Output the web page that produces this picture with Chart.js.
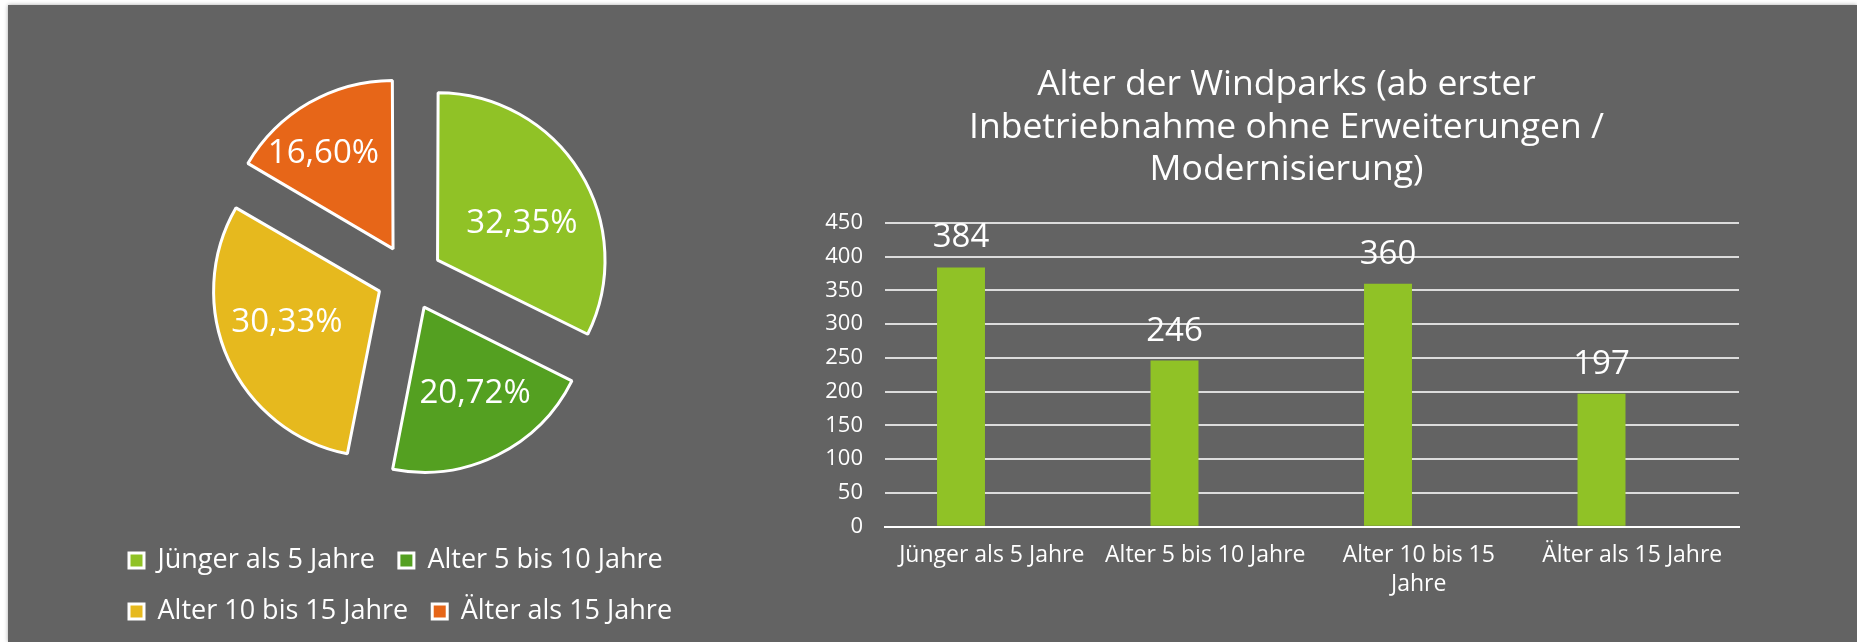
<!DOCTYPE html>
<html>
<head>
<meta charset="utf-8">
<script src="https://cdn.jsdelivr.net/npm/chart.js@4"></script>
<style>
  html, body { margin: 0; padding: 0; background: #fff; }
  body { width: 1857px; height: 642px; position: relative; overflow: hidden; }
  #panel { position: absolute; left: 8px; top: 5px; right: 0; bottom: 0; background: #636363; box-shadow: 0 0 4px rgba(0,0,0,0.35); }
  .box { position: absolute; }
  #pieBox { left: 105px; top: 32px; width: 609px; height: 603px; }
  #barBox { left: 824px; top: 40px; width: 925px; height: 602px; }
</style>
</head>
<body>
<div id="panel"></div>
<div class="box" id="pieBox"><canvas id="pie"></canvas></div>
<div class="box" id="barBox"><canvas id="bar"></canvas></div>
<script>
// age groups of the wind parks
const categories = ['Jünger als 5 Jahre', 'Alter 5 bis 10 Jahre', 'Alter 10 bis 15 Jahre', 'Älter als 15 Jahre'];
const xTickLabels = ['Jünger als 5 Jahre', 'Alter 5 bis 10 Jahre', ['Alter 10 bis 15', 'Jahre'], 'Älter als 15 Jahre'];
const parkCounts = [384, 246, 360, 197];
const pieShares = [32.35, 20.72, 30.33, 16.60];
const pieColors = ['#90C226', '#54A021', '#E6B91E', '#E76618'];
const yTicks = [0, 50, 100, 150, 200, 250, 300, 350, 400, 450];
const titleLines = ['Alter der Windparks (ab erster', 'Inbetriebnahme ohne Erweiterungen /', 'Modernisierung)'];

Chart.defaults.font.family = "'Open Sans', sans-serif";
Chart.defaults.color = '#fff';

// percent labels inside the slices (distance from slice tip, small turn off the bisector)
const pieLabels = {
  id: 'pieLabels',
  afterDatasetsDraw(chart) {
    const ctx = chart.ctx;
    const meta = chart.getDatasetMeta(0);
    const dist = [93, 98, 97, 120];
    const turn = [6.9, -5.1, 6.8, -5.6];
    ctx.save();
    ctx.fillStyle = '#fff';
    ctx.font = "33px 'Open Sans', sans-serif";
    ctx.textAlign = 'center';
    ctx.textBaseline = 'alphabetic';
    meta.data.forEach((arc, i) => {
      const mid = (arc.startAngle + arc.endAngle) / 2;
      const off = (arc.options.offset || 0) / 4;
      const tx = arc.x + Math.cos(mid) * off;
      const ty = arc.y + Math.sin(mid) * off;
      const a = mid + turn[i] * Math.PI / 180;
      const txt = pieShares[i].toFixed(2).replace('.', ',') + '%';
      ctx.fillText(txt, tx + Math.cos(a) * dist[i], ty + Math.sin(a) * dist[i] + 12);
    });
    ctx.restore();
  }
};

// value labels above the bars
const barLabels = {
  id: 'barLabels',
  afterDatasetsDraw(chart) {
    const ctx = chart.ctx;
    const meta = chart.getDatasetMeta(0);
    ctx.save();
    ctx.fillStyle = '#fff';
    ctx.font = "33px 'Open Sans', sans-serif";
    ctx.textAlign = 'center';
    ctx.textBaseline = 'alphabetic';
    meta.data.forEach((bar, i) => {
      ctx.fillText(String(parkCounts[i]), bar.x, bar.y - 20);
    });
    ctx.restore();
  }
};

new Chart(document.getElementById('pie'), {
  type: 'pie',
  data: {
    labels: categories,
    datasets: [{
      data: pieShares,
      backgroundColor: pieColors,
      borderColor: '#fff',
      borderWidth: 3,
      offset: 132,
      hoverOffset: 0
    }]
  },
  options: {
    responsive: true,
    maintainAspectRatio: false,
    animation: false,
    radius: 164,
    layout: { padding: 0 },
    plugins: {
      legend: {
        position: 'bottom',
        align: 'start',
        labels: { color: '#fff', font: { size: 27 }, boxWidth: 15, boxHeight: 15, padding: 24 }
      },
      tooltip: { enabled: false }
    }
  },
  plugins: [pieLabels]
});

new Chart(document.getElementById('bar'), {
  type: 'bar',
  data: {
    labels: xTickLabels,
    datasets: [
      { data: parkCounts, backgroundColor: '#90C226', borderWidth: 0 },
      { data: parkCounts.map(() => null), backgroundColor: 'transparent' }
    ]
  },
  options: {
    responsive: true,
    maintainAspectRatio: false,
    animation: false,
    categoryPercentage: 0.576,
    barPercentage: 0.78,
    layout: { padding: 0 },
    plugins: {
      legend: { display: false },
      tooltip: { enabled: false },
      title: {
        display: true,
        text: titleLines,
        color: '#fff',
        font: { size: 35.5, weight: 'normal', lineHeight: 1.2 },
        padding: { top: 23.5, bottom: 31.6 }
      }
    },
    scales: {
      x: {
        grid: { display: false, drawTicks: false },
        border: { display: true, color: '#fff', width: 2 },
        ticks: { color: '#fff', font: { size: 23, lineHeight: 1.26 }, padding: 14, maxRotation: 0, autoSkip: false },
        afterFit(s) { s.height = 115.3; }
      },
      y: {
        min: 0,
        max: yTicks[yTicks.length - 1],
        afterBuildTicks(s) { s.ticks = yTicks.map(v => ({ value: v })); },
        grid: { color: '#dcdcdc', lineWidth: 2, drawTicks: false },
        border: { display: false },
        ticks: { color: '#fff', font: { size: 22 }, padding: 22 },
        afterFit(s) { s.width = 61; }
      },
      // empty right-hand strip so the title centres like the original
      y2: {
        position: 'right',
        grid: { display: false, drawTicks: false },
        border: { display: false },
        ticks: { display: false },
        afterFit(s) { s.width = 10; }
      }
    }
  },
  plugins: [barLabels]
});
</script>
</body>
</html>
